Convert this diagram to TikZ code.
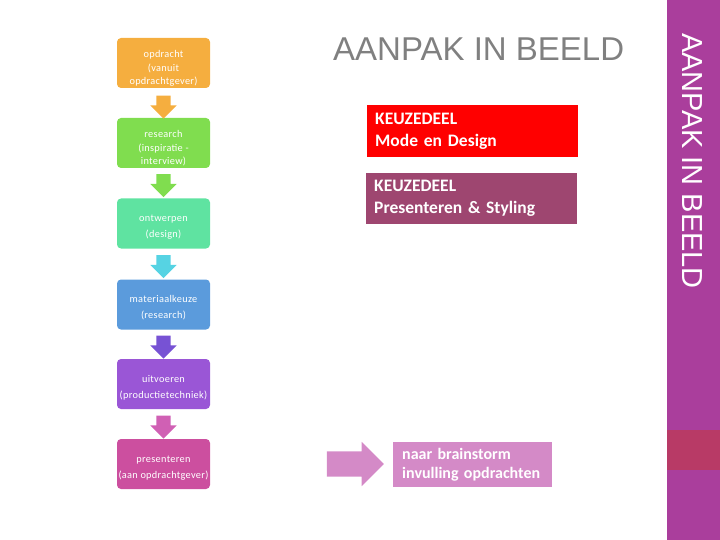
\documentclass[tikz,border=0pt]{standalone}
\usepackage{fontspec}
\setmainfont{Carlito}
\newfontfamily\titelfont{Liberation Sans}
\newfontfamily\stapfont[LetterSpace=3]{Carlito}
\usetikzlibrary{shapes.arrows}

\definecolor{oranje}{HTML}{F5AE3F}
\definecolor{groen}{HTML}{80DD4F}
\definecolor{mint}{HTML}{5FE3A1}
\definecolor{cyaan}{HTML}{56D3E3}
\definecolor{blauw}{HTML}{5B9BDC}
\definecolor{violet}{HTML}{7752D4}
\definecolor{paars}{HTML}{9A56D6}
\definecolor{roze}{HTML}{D060B4}
\definecolor{fuchsia}{HTML}{CC4F9F}
\definecolor{lichtroze}{HTML}{D48AC7}
\definecolor{wijnrood}{HTML}{9E4670}
\definecolor{balk}{HTML}{AA3E9C}
\definecolor{balkrood}{HTML}{B83A66}

\begin{document}
\begin{tikzpicture}[x=1pt,y=-1pt,
  stap/.style={rectangle,rounded corners=4pt,minimum width=93pt,minimum height=50pt,
    inner xsep=1pt,inner ysep=0pt,text=white,align=center,
    font=\stapfont\fontsize{10.3}{13.5}\selectfont,text height=30pt},
  drieregels/.style={text height=45pt},
  pijl/.style={single arrow,shape border rotate=270,minimum height=23pt,minimum width=26pt,
    single arrow head extend=6pt,inner sep=7pt},
  keuze/.style={rectangle,anchor=north west,minimum width=211pt,text width=195pt,
    inner xsep=8pt,align=left,text=white,font=\fontsize{17.5}{22}\selectfont\bfseries}]
\useasboundingbox (0,0) rectangle (720,540);

\fill[balk] (667,0) rectangle (720,540);
\fill[balkrood] (667,430) rectangle (720,470);
\node[rotate=-90,anchor=base west,inner sep=0pt,text=white,font=\titelfont\fontsize{29}{29}\selectfont] (zijtitel) at (682,33) {AANPAK IN BEELD};

\node[anchor=base west,inner sep=0pt,text=gray,font=\titelfont\fontsize{33}{33}\selectfont] (titel) at (333,61) {AANPAK IN BEELD};

\node[stap,drieregels,fill=oranje] (A) at (163.5,63) {opdracht\\(vanuit\\opdrachtgever)};
\node[stap,drieregels,fill=groen] (B) at (163.5,143) {research\\(inspiratie -\\interview)};
\node[stap,fill=mint] (C) at (163.5,223.5) {ontwerpen\\[2.5pt](design)};
\node[stap,fill=blauw] (D) at (163.5,304.5) {materiaalkeuze\\[2.5pt](research)};
\node[stap,fill=paars] (E) at (163.5,384) {uitvoeren\\[2.5pt](productietechniek)};
\node[stap,fill=fuchsia] (F) at (163.5,464) {presenteren\\[2.5pt](aan opdrachtgever)};

\node[pijl,fill=oranje] (AB) at (163.5,103.5) {};
\node[pijl,fill=groen] (BC) at (163.5,182) {};
\node[pijl,fill=cyaan] (CD) at (163.5,263) {};
\node[pijl,fill=violet] (DE) at (163.5,343.5) {};
\node[pijl,fill=roze] (EF) at (163.5,423.5) {};

\node[keuze,fill=red,minimum height=52pt] (K1) at (367,105) {KEUZEDEEL\\Mode en Design};
\node[keuze,fill=wijnrood,minimum height=51pt] (K2) at (366,173) {KEUZEDEEL\\Presenteren \& Styling};

\node[single arrow,fill=lichtroze,minimum height=57pt,minimum width=44pt,
  single arrow head extend=9.5pt,inner sep=12.5pt] (FG) at (349,464) {};
\node[rectangle,anchor=north west,fill=lichtroze,minimum width=157pt,minimum height=45pt,
  text width=141pt,inner xsep=9pt,text=white,align=left,
  font=\fontsize{16}{19}\selectfont\bfseries] (G) at (393,442) {naar brainstorm\\invulling opdrachten};
\end{tikzpicture}
\end{document}
